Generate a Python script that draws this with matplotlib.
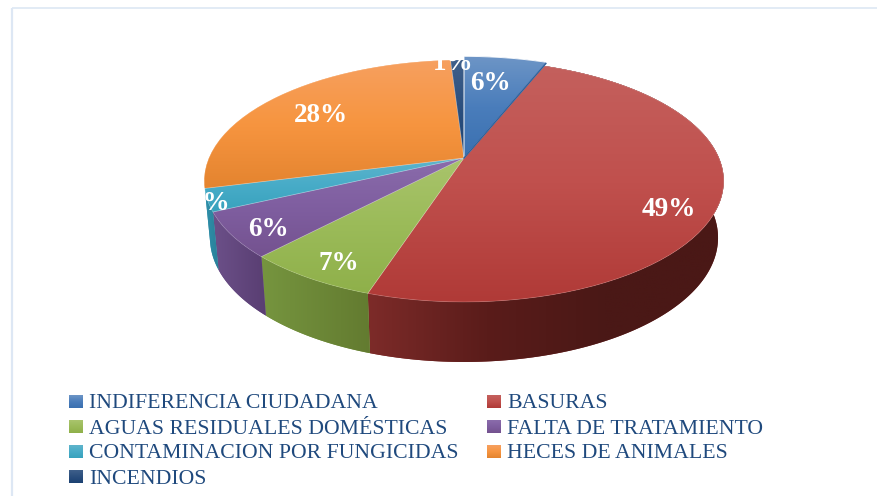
import numpy as np
import matplotlib
matplotlib.use("Agg")
import matplotlib.pyplot as plt
from matplotlib.colors import LinearSegmentedColormap
from matplotlib.patches import PathPatch, Polygon
from matplotlib.path import Path
from matplotlib.transforms import Affine2D, Transform

plt.rcParams['font.family'] = ['Liberation Serif', 'DejaVu Serif']

categories = ["INDIFERENCIA CIUDADANA", "BASURAS", "AGUAS RESIDUALES DOMÉSTICAS",
              "FALTA DE TRATAMIENTO", "CONTAMINACION POR FUNGICIDAS",
              "HECES DE ANIMALES", "INCENDIOS"]
values = [6, 49, 7, 6, 3, 28, 1]

base_colors = ["#4f81bd", "#c0504d", "#9bbb59", "#8064a2", "#4bacc6", "#f79646", "#1f497d"]
top_grads = [["#6d95c6", "#4a7dbb", "#3a70b0"],
             ["#c4605d", "#c0504d", "#b03a37"],
             ["#a9c46c", "#9bbb59", "#8fb04a"],
             ["#8a6cab", "#7f5ea0", "#74528f"],
             ["#5fb4cb", "#48acc8", "#38a2bd"],
             ["#f6a060", "#f79540", "#e4842f"],
             ["#3f5f8a", "#2b4f7e", "#1c4272"]]
wall_grads = [["#3a6290", "#2f5278"],
              ["#7d2b29", "#5a1c1a", "#4a1816", "#4a1816"],
              ["#76953f", "#637b30"],
              ["#6c5089", "#593e72"],
              ["#2f90ab", "#2a8098"],
              ["#b96c2b", "#a85f22"],
              ["#16355c", "#102a4a"]]

label_xy = [(490, 84), (669, 209), (339, 264), (268, 230), (210, 204), (321, 115), (453, 64)]
legend_xy = [(69, 402), (487, 402), (69, 427), (487, 427), (69, 452), (487, 452), (69, 477)]

CX, CY, A, B, K = 464.0, 158.0, 255.0, 116.6, 0.19
BOTTOM_SHRINK = 0.978


class Persp(Transform):
    input_dims = output_dims = 2
    is_separable = False
    has_inverse = False

    def transform_non_affine(self, v):
        v = np.asarray(v, float)
        w = 1 + K * v[:, 1]
        return np.column_stack([CX + A * v[:, 0] / w, CY - B * v[:, 1] / w])

    def transform_path_non_affine(self, path):
        polys = path.transformed(Affine2D().scale(400)).to_polygons()
        return Path(self.transform_non_affine(np.concatenate(polys) / 400))


persp = Persp()
fig = plt.figure(figsize=(8.77, 4.96), dpi=100, facecolor="white")
ax = fig.add_axes([0, 0, 1, 1])

wedges, _ = ax.pie(values, startangle=90, counterclock=False, radius=1,
                   colors=base_colors, wedgeprops=dict(lw=0))
wedges[0].set_radius(1.045)


def cmap(stops):
    return LinearSegmentedColormap.from_list("g", stops)


def fill_gradient(patch, stops, horizontal, z, bbox):
    g = np.linspace(0, 1, 256)
    g = g[None, :] if horizontal else g[:, None]
    im = ax.imshow(g, cmap=cmap(stops), aspect="auto", zorder=z, interpolation="bilinear",
                   extent=(bbox.x0, bbox.x1, bbox.y1, bbox.y0), vmin=0, vmax=1)
    im.set_clip_path(patch)


# side walls of the slices that face the viewer, from the same angles as the pie
for i, w in enumerate(wedges):
    t = np.radians(np.linspace(w.theta1, w.theta2, 200))
    arc = np.column_stack([np.cos(t), np.sin(t)])
    if arc[:, 1].mean() >= 0:
        continue
    top = persp.transform_non_affine(arc)
    depth = 56 - 4 * arc[:, 1]
    bottom = np.column_stack([CX + (top[:, 0] - CX) * BOTTOM_SHRINK, top[:, 1] + depth])
    poly = Polygon(np.vstack([top, bottom[::-1]]), closed=True, fc=wall_grads[i][0], lw=0,
                   zorder=1 + i * 0.01)
    ax.add_patch(poly)
    fill_gradient(poly, wall_grads[i], True, 1 + i * 0.01 + 0.001, poly.get_path().get_extents())

# pie tops
for i, w in enumerate(wedges):
    w.set_transform(persp + ax.transData)
    w.set_zorder(3)
    path = persp.transform_path(w.get_path())
    fill_gradient(w, top_grads[i], False, 3.1 + i * 0.01, path.get_extents())
    ax.add_patch(PathPatch(w.get_path(), transform=persp + ax.transData, fc="none",
                           ec=(1, 1, 1, 0.9 if i == 0 else 0.25), lw=0.7 if i == 0 else 0.5, zorder=4))

# darker cut edge of the slightly raised first slice
t0 = np.radians(wedges[0].theta1)
cut = persp.transform_non_affine(np.array([[0, 0], [1.03 * np.cos(t0), 1.03 * np.sin(t0)]]))
ax.plot(cut[:, 0], cut[:, 1], color="#2f619b", lw=1.1, zorder=4.5)

for v, (x, y) in zip(values, label_xy):
    ax.text(x, y, f"{v}%", color="white", fontsize=19.5, fontweight="bold",
            ha="center", va="center", zorder=6)

for (x, y), name, stops in zip(legend_xy, categories, top_grads):
    ax.imshow(np.linspace(0, 1, 32)[:, None], cmap=cmap(stops), aspect="auto", zorder=5,
              extent=(x, x + 14, y + 6, y - 7))
    ax.text(x + 20, y + 2, name, color="#1f497d", fontsize=15.7, ha="left", va="center", zorder=6)

# thin frame of the chart area
ax.plot([11.5, 11.5], [496, 7.5], color="#dde7f4", lw=1.6, zorder=0, solid_capstyle="butt")
ax.plot([11.5, 877], [7.5, 7.5], color="#dde7f4", lw=1.2, zorder=0, solid_capstyle="butt")

ax.set_aspect("auto")
ax.set_xlim(0, 877)
ax.set_ylim(496, 0)
ax.axis("off")
fig.savefig("out.png", dpi=100, facecolor="white")
